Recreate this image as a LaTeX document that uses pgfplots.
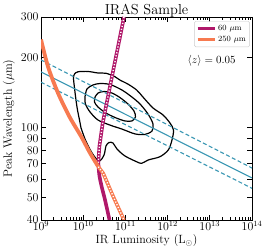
\documentclass[border=0pt]{standalone}
\usepackage{fontspec}
\usepackage{pgfplots}
\pgfplotsset{compat=1.18}
\definecolor{mag}{HTML}{B0186A}
\definecolor{org}{HTML}{F77A50}
\definecolor{tealc}{HTML}{3A97B3}
\begin{document}
\begin{tikzpicture}
\begin{axis}[
  scale only axis, width=211bp, height=203bp,
  xmode=log, ymode=log,
  xmin=1e9, xmax=1e14, ymin=40, ymax=300,
  xtick={1e9,1e10,1e11,1e12,1e13,1e14},
  xticklabels={$10^{9}$,$10^{10}$,$10^{11}$,$10^{12}$,$10^{13}$,$10^{14}$},
  ytick={40,50,60,70,80,90,100,200,300},
  yticklabels={40,50,60,70,80,90,100,200,300},
  minor xtick={}, minor ytick={},
  tick align=inside, major tick length=5bp,
  xtick pos=both, ytick pos=both,
  tick label style={font=\fontsize{12}{13}\selectfont},
  xticklabel style={yshift=2.5bp},
  yticklabel style={xshift=1bp},
  axis line style={line width=0.9bp},
  every tick/.style={black, line width=0.8bp},
  title={IRAS Sample},
  title style={font=\fontsize{14.5}{16}\selectfont, at={(axis description cs:0.5,1.01)}, anchor=base, yshift=-6pt},
  xlabel={IR Luminosity (L$_{\odot}$)},
  ylabel={Peak Wavelength ($\mu$m)},
  label style={font=\fontsize{12}{14}\selectfont},
  xlabel style={at={(axis description cs:0.5,-0.103)}, anchor=center},
  ylabel style={at={(axis description cs:-0.152,0.5)}, anchor=center, rotate=0},
  legend style={at={(axis description cs:0.99,0.98)}, anchor=north east,
    font=\fontsize{8}{9}\selectfont, draw=black!20, rounded corners=1.5bp,
    inner sep=1.8bp, row sep=0.5bp},
  legend image post style={line width=3bp},
  legend cell align=left,
  clip=true,
]
% contours
\addplot[black, line width=1.2bp, smooth, tension=0.5, forget plot] coordinates {
(8.87e9,99.8) (1.13e10,88.5) (1.62e10,77.8) (2.37e10,71.8) (3.11e10,76.2) (3.47e10,83.4)
(4.08e10,86.3) (5.08e10,85.9) (6.32e10,80.9) (9.79e10,75.5) (1.85e11,71.3) (2.43e11,70.2)
(3.49e11,72.6) (6.61e11,75.0) (1.04e12,80.2) (1.27e12,88.5) (1.38e12,97.7) (1.14e12,104.7)
(7.78e11,113.5) (4.51e11,121.6) (2.61e11,135.5) (1.85e11,145.3) (1.15e11,154.1) (7.45e10,160.4)
(5.68e10,165.8) (3.47e10,171.6) (2.24e10,172.1) (1.30e10,174.7) (7.53e9,174.2) (6.22e9,170.2)
(5.89e9,163.7) (6.22e9,148.3) (6.75e9,131.5) (7.33e9,119.1) (8.17e9,107.9) (8.87e9,99.8)
};
\addplot[black, line width=1.2bp, smooth, tension=0.5, forget plot] coordinates {
(1.10e10,135.5) (1.23e10,146.9) (1.71e10,152.8) (2.50e10,155.0) (4.32e10,153.5) (8.30e10,145.3)
(1.43e11,135.5) (2.22e11,126.5) (3.43e11,114.6) (4.51e11,103.8) (4.27e11,96.8) (2.91e11,93.5)
(1.69e11,94.0) (8.30e10,98.6) (4.32e10,102.6) (2.24e10,107.9) (1.45e10,116.9) (1.13e10,126.5)
(1.10e10,135.5)
};
\addplot[black, line width=1.2bp, smooth, tension=0.5, forget plot] coordinates {
(1.91e10,135.5) (2.24e10,141.0) (3.11e10,143.2) (4.81e10,141.0) (7.45e10,134.8) (1.15e11,126.5)
(1.60e11,117.9) (1.73e11,111.2) (1.43e11,106.9) (9.79e10,106.9) (5.98e10,110.2) (3.47e10,115.6)
(2.24e10,122.8) (1.85e10,129.1) (1.91e10,135.5)
};
% fit lines
\addplot[tealc, line width=1.1bp, forget plot] coordinates {(1e9,174) (1e14,60.7)};
\addplot[tealc, line width=1.1bp, dash pattern=on 4bp off 2.5bp, forget plot] coordinates {(1e9,196) (1e14,67)};
\addplot[tealc, line width=1.1bp, dash pattern=on 4bp off 2.5bp, forget plot] coordinates {(1e9,157) (1e14,54.8)};
% 60 micron: dotted upper, solid lower
\addplot[mag, line width=3.6bp, forget plot] coordinates {
(9.27e10,300) (5.17e10,177.4) (3.72e10,131.5) (2.90e10,104.7) (2.41e10,82.6) (2.28e10,70.5)};
\addplot[white, line width=1.4bp, dash pattern=on 1.2bp off 1.8bp, forget plot] coordinates {
(9.27e10,300) (5.17e10,177.4) (3.72e10,131.5) (2.90e10,104.7) (2.41e10,82.6) (2.28e10,70.5)};
\addplot[mag, line width=3.6bp, smooth, forget plot] coordinates {
(2.28e10,70.5) (2.41e10,62.5) (2.74e10,55.7) (3.29e10,48.8) (4.2e10,40)};
% 250 micron: solid upper, dotted lower
\addplot[org, line width=3.8bp, smooth, forget plot] coordinates {
(1e9,240) (1.47e9,183) (2.53e9,141) (4.79e9,111) (9.02e9,91.4) (1.45e10,77.8) (2.28e10,67.9)};
\addplot[org, line width=3.6bp, forget plot] coordinates {
(2.28e10,67.9) (2.99e10,63.5) (5.16e10,50.4) (9.27e10,40)};
\addplot[white, line width=1.4bp, dash pattern=on 1.2bp off 1.8bp, forget plot] coordinates {
(2.28e10,67.9) (2.99e10,63.5) (5.16e10,50.4) (9.27e10,40)};
\addlegendimage{mag, line width=3bp}
\addlegendentry{60 $\mu$m}
\addlegendimage{org, line width=3bp}
\addlegendentry{250 $\mu$m}
\node[font=\fontsize{11}{12}\selectfont] at (axis cs:1.1e13,194) {$\langle z\rangle = 0.05$};
\end{axis}
\path (current axis.south west) ++(-41bp,-31bp) coordinate (A);
\path (current axis.north east) ++(18bp,17bp) coordinate (B);
\pgfresetboundingbox
\useasboundingbox (A) rectangle (B);
\end{tikzpicture}
\end{document}
